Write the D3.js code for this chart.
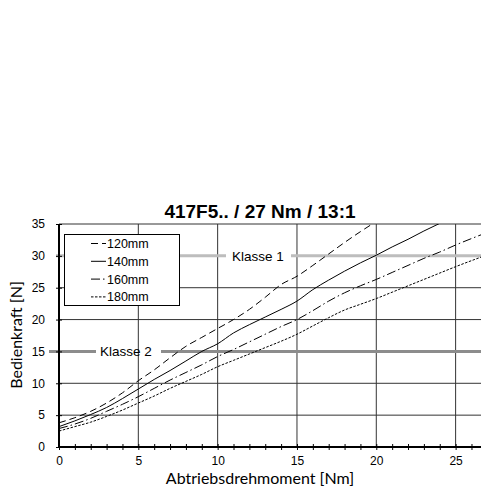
<!DOCTYPE html>
<html>
<head>
<meta charset="utf-8">
<script src="https://cdnjs.cloudflare.com/ajax/libs/d3/7.8.5/d3.min.js"></script>
<style>
  body { margin: 0; background: #fff; }
  text { font-family: "Liberation Sans", Arial, sans-serif; }
</style>
</head>
<body>
<svg id="chart" width="481" height="492"></svg>
<script>
// data: [torque Nm, force N]
var curve120 = [[0,3.8],[1,4.6],[2,5.6],[3,6.9],[4,8.5],[5,10.4],[6,12.1],[7,14.0],[8,15.8],[9,17.2],[10,18.6],[11,20.0],[12,21.6],[13,23.5],[14,25.5],[15,26.8],[16,28.5],[17,30.3],[18,32.1],[19,33.8],[20,35.4]];
var curve140 = [[0,3.2],[1,4.1],[2,5.1],[3,6.2],[4,7.6],[5,9.1],[6,10.6],[7,12.0],[8,13.5],[9,15.0],[10,16.2],[11,17.9],[12,19.2],[13,20.4],[14,21.6],[15,22.9],[16,24.7],[17,26.2],[18,27.6],[19,28.9],[20,30.1],[21,31.4],[22,32.6],[23,33.9],[24,35.1]];
var curve160 = [[0,2.9],[1,3.6],[2,4.5],[3,5.6],[4,6.7],[5,7.9],[6,9.2],[7,10.5],[8,11.7],[9,12.9],[10,14.2],[11,15.3],[12,16.5],[13,17.7],[14,18.9],[15,20.0],[16,21.4],[17,22.9],[18,24.2],[19,25.3],[20,26.3],[21,27.4],[22,28.5],[23,29.6],[24,30.6],[25,31.7],[26.6,33.3]];
var curve180 = [[0,2.5],[1,3.2],[2,3.9],[3,4.8],[4,5.8],[5,6.9],[6,8.0],[7,9.2],[8,10.3],[9,11.4],[10,12.6],[11,13.6],[12,14.6],[13,15.6],[14,16.6],[15,17.7],[16,19.0],[17,20.3],[18,21.5],[19,22.4],[20,23.3],[21,24.3],[22,25.3],[23,26.3],[24,27.3],[25,28.3],[26.6,29.8]];
var seriesNames = ["120mm", "140mm", "160mm", "180mm"];
var xTicks = [0, 5, 10, 15, 20, 25];
var yTicks = [0, 5, 10, 15, 20, 25, 30, 35];
var classLevels = [30, 15];
var classNames = ["Klasse 1", "Klasse 2"];

var series = [
  {name: seriesNames[0], values: curve120, dash: "7,4"},
  {name: seriesNames[1], values: curve140, dash: null},
  {name: seriesNames[2], values: curve160, dash: "9,3,1.5,3"},
  {name: seriesNames[3], values: curve180, dash: "2.5,1.5"}
];

var svg = d3.select("#chart");

var x = d3.scaleLinear().domain([0, 26.6]).range([59, 481]);
var y = d3.scaleLinear().domain([0, 35]).range([447, 224]);

svg.append("defs").append("clipPath").attr("id", "plotclip")
  .append("rect")
  .attr("x", x(0)).attr("y", y(35))
  .attr("width", x(26.6) - x(0)).attr("height", y(0) - y(35));

// grid (15 and 30 are replaced by the Klasse lines)
var grid = svg.append("g");
grid.selectAll(".vg").data(xTicks.slice(1)).enter().append("line")
  .attr("x1", d => x(d)).attr("x2", d => x(d))
  .attr("y1", y(0)).attr("y2", y(35))
  .attr("stroke", "#333").attr("stroke-width", 1);
grid.selectAll(".hg").data(yTicks.slice(1).filter(d => classLevels.indexOf(d) < 0)).enter().append("line")
  .attr("x1", x(0)).attr("x2", x(26.6))
  .attr("y1", d => y(d)).attr("y2", d => y(d))
  .attr("stroke", "#333").attr("stroke-width", 1);

// Klasse lines with labels
var classStyle = [
  {color: "#bdbdbd", x0: 56, gapFrom: 226, gapTo: 291, labelX: 232},
  {color: "#8c8c8c", x0: 49, gapFrom: 96, gapTo: 161, labelX: 100}
];
classLevels.forEach(function(lv, i) {
  var s = classStyle[i];
  svg.append("line").attr("x1", s.x0).attr("x2", s.gapFrom)
    .attr("y1", y(lv)).attr("y2", y(lv))
    .attr("stroke", s.color).attr("stroke-width", 3);
  svg.append("line").attr("x1", s.gapTo).attr("x2", x(26.6))
    .attr("y1", y(lv)).attr("y2", y(lv))
    .attr("stroke", s.color).attr("stroke-width", 3);
  svg.append("text").attr("x", s.labelX).attr("y", y(lv) + 5)
    .attr("font-size", 13.5).attr("fill", "#000")
    .text(classNames[i]);
});

// axes
var xAxis = d3.axisBottom(x).tickValues(d3.range(0, 27, 1)).tickSize(0)
  .tickFormat(d => xTicks.indexOf(d) >= 0 ? d : "");
var gx = svg.append("g").attr("transform", "translate(0," + y(0) + ")").call(xAxis);
gx.select(".domain").remove();
gx.selectAll("text").attr("dy", "1.25em").attr("font-size", 12).attr("fill", "#000").style("font-family", "Liberation Sans, Arial, sans-serif");
gx.selectAll(".tick").append("line").attr("y1", -3).attr("y2", 3).attr("stroke", "#000");
svg.append("line").attr("x1", x(0) - 1).attr("x2", x(26.6))
  .attr("y1", y(0)).attr("y2", y(0)).attr("stroke", "#000").attr("stroke-width", 2);

var yAxis = d3.axisLeft(y).tickValues(yTicks).tickSize(0).tickPadding(14);
var gy = svg.append("g").attr("transform", "translate(" + x(0) + ",0)").call(yAxis);
gy.select(".domain").remove();
gy.selectAll("text").attr("font-size", 12).attr("fill", "#000").style("font-family", "Liberation Sans, Arial, sans-serif");
gy.selectAll(".tick").append("line").attr("x1", -3).attr("x2", 3).attr("stroke", "#000");
svg.append("line").attr("x1", x(0)).attr("x2", x(0))
  .attr("y1", y(0) + 1).attr("y2", y(35)).attr("stroke", "#000").attr("stroke-width", 2);

// curves
var line = d3.line().x(d => x(d[0])).y(d => y(d[1])).curve(d3.curveMonotoneX);
svg.append("g").attr("clip-path", "url(#plotclip)")
  .selectAll("path").data(series).enter().append("path")
  .attr("d", d => line(d.values))
  .attr("fill", "none").attr("stroke", "#000").attr("stroke-width", 1)
  .attr("stroke-dasharray", d => d.dash);

// legend
var lg = svg.append("g");
lg.append("rect").attr("x", 64.5).attr("y", 234.5).attr("width", 115).attr("height", 71)
  .attr("fill", "#fff").attr("stroke", "#000").attr("stroke-width", 1);
series.forEach(function(s, i) {
  var ly = 243.5 + i * 17.8;
  lg.append("line").attr("x1", 91).attr("x2", 106).attr("y1", ly).attr("y2", ly)
    .attr("stroke", "#000").attr("stroke-width", 1).attr("stroke-dasharray", s.dash);
  lg.append("text").attr("x", 107).attr("y", ly + 4.5).attr("font-size", 12.5).text(s.name);
});

// titles
svg.append("text").attr("x", 260).attr("y", 218).attr("text-anchor", "middle")
  .attr("font-size", 19).attr("font-weight", "bold").text("417F5.. / 27 Nm / 13:1");
svg.append("text").attr("x", 260).attr("y", 484).attr("text-anchor", "middle")
  .attr("font-size", 16).style("font-family", "Lato, sans-serif").text("Abtriebsdrehmoment [Nm]");
svg.append("text").attr("transform", "translate(22," + 335 + ") rotate(-90)")
  .attr("text-anchor", "middle").attr("font-size", 16).style("font-family", "Lato, sans-serif").text("Bedienkraft [N]");
</script>
</body>
</html>
